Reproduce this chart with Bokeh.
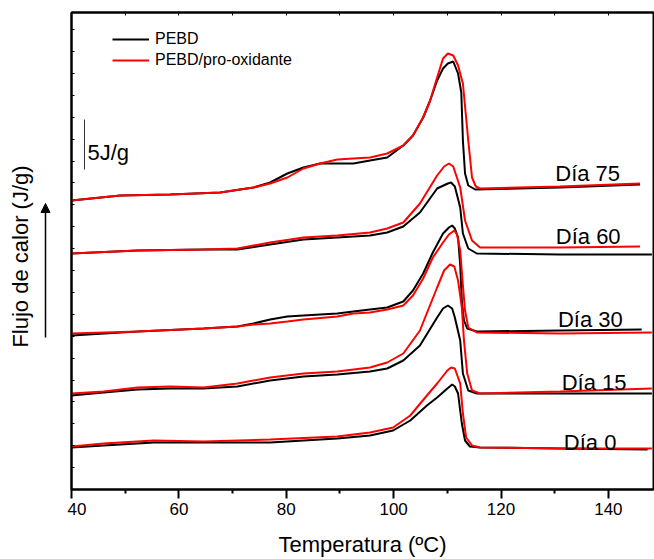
import math
from bokeh.plotting import figure
from bokeh.layouts import row
from bokeh.models import (Range1d, LinearAxis, FixedTicker, Legend, LegendItem,
                          Arrow, NormalHead, Label, CustomJSTickFormatter)
from bokeh.embed import file_html
from bokeh.resources import INLINE

FONT = "Liberation Sans"

# ---------------- data (temperature in ºC, heat flow in J/g, stacked offsets) -------------
d75_pebd_T = [40.0, 49.1, 58.4, 67.7, 73.9, 77.0, 80.2, 83.2, 86.3, 89.5, 92.5, 95.6, 98.8, 101.8,
              103.6, 105.5, 106.8, 108.1, 109.2, 110.1, 111.1, 112.0, 112.6, 112.9, 113.3, 113.9,
              115.2, 131.0, 145.9]
d75_pebd_H = [28.9, 29.4, 29.5, 29.7, 30.2, 30.7, 31.6, 32.2, 32.6, 32.6, 32.6, 32.9, 33.2, 34.4,
              35.4, 37.2, 38.9, 40.9, 42.1, 42.6, 42.8, 41.6, 39.7, 34.9, 31.6, 30.4,
              30.0, 30.2, 30.5]
d75_prox_T = [40.0, 49.1, 58.4, 67.7, 73.9, 77.0, 80.2, 83.2, 86.3, 89.5, 92.5, 95.6, 98.8, 101.8,
              103.6, 105.5, 106.8, 108.1, 109.2, 110.1, 111.1, 112.0, 112.9, 113.9, 114.6, 115.3,
              116.1, 131.0, 145.9]
d75_prox_H = [28.9, 29.4, 29.5, 29.7, 30.2, 30.6, 31.2, 32.1, 32.6, 33.0, 33.1, 33.2, 33.6, 34.4,
              35.4, 37.2, 38.9, 41.2, 43.1, 43.6, 43.4, 42.4, 40.6, 34.9, 31.2, 30.3,
              30.1, 30.3, 30.6]

d60_pebd_T = [40.0, 52.3, 64.6, 70.9, 77.0, 83.2, 89.5, 95.6, 98.8, 101.8, 104.9, 108.1, 110.1,
              110.7, 111.4, 112.4, 112.9, 113.9, 115.5, 131.0, 148.1]
d60_pebd_H = [23.6, 23.9, 24.0, 24.0, 24.5, 25.0, 25.2, 25.4, 25.7, 26.3, 27.7, 30.1, 30.6,
              30.7, 30.3, 28.2, 25.6, 24.1, 23.6, 23.5, 23.5]
d60_prox_T = [40.0, 52.3, 64.6, 70.9, 77.0, 83.2, 89.5, 95.6, 98.8, 101.8, 104.9, 108.1, 109.4,
              110.3, 111.1, 112.4, 113.3, 114.6, 116.1, 131.0, 145.9]
d60_prox_H = [23.6, 23.9, 24.0, 24.1, 24.7, 25.2, 25.4, 25.7, 26.1, 26.7, 28.6, 31.4, 32.3,
              32.6, 32.3, 30.2, 26.9, 24.9, 24.2, 24.2, 24.3]

d30_pebd_T = [40.0, 52.3, 64.6, 70.9, 73.9, 77.0, 80.2, 83.2, 89.5, 92.5, 95.6, 98.8, 101.8, 103.6,
              105.5, 107.3, 109.2, 110.3, 110.9, 111.4, 112.0, 112.4, 112.7, 113.1, 113.7, 115.5,
              131.0, 146.2]
d30_pebd_H = [15.4, 15.8, 16.1, 16.3, 16.6, 17.0, 17.3, 17.4, 17.6, 17.8, 18.0, 18.2, 18.8, 19.9,
              21.6, 23.7, 25.6, 26.2, 26.4, 26.1, 25.2, 22.4, 18.9, 16.9, 16.1, 15.8,
              15.9, 16.0]
d30_prox_T = [40.0, 52.3, 64.6, 70.9, 73.9, 77.0, 80.2, 83.2, 89.5, 92.5, 95.6, 98.8, 101.8, 103.6,
              105.5, 107.3, 109.2, 110.3, 111.3, 111.8, 112.4, 112.9, 113.3, 113.9, 115.5, 131.0,
              148.1]
d30_prox_H = [15.6, 15.8, 16.1, 16.3, 16.5, 16.6, 16.8, 17.0, 17.3, 17.6, 17.7, 18.0, 18.4, 19.4,
              21.1, 23.2, 24.7, 25.5, 25.9, 25.5, 23.9, 20.4, 17.9, 16.2, 15.7, 15.6,
              15.7]

d15_pebd_T = [40.0, 46.0, 52.3, 58.4, 64.6, 70.9, 77.0, 83.2, 89.5, 95.6, 98.8, 101.8, 104.9,
              108.1, 109.2, 110.1, 110.9, 111.4, 112.4, 112.9, 113.9, 115.5, 131.0, 148.1]
d15_pebd_H = [9.4, 9.7, 10.0, 10.1, 10.1, 10.3, 10.9, 11.3, 11.5, 11.8, 12.1, 12.9, 14.4,
              17.2, 18.1, 18.4, 18.1, 17.2, 14.9, 11.6, 9.9, 9.6, 9.6, 9.6]
d15_prox_T = [40.0, 46.0, 52.3, 58.4, 64.6, 70.9, 77.0, 83.2, 89.5, 95.6, 98.8, 101.8, 104.9,
              108.1, 109.4, 110.5, 111.3, 112.0, 112.7, 113.1, 113.7, 114.6, 116.1, 131.0, 148.1]
d15_prox_H = [9.6, 9.8, 10.2, 10.3, 10.2, 10.6, 11.2, 11.6, 11.8, 12.2, 12.7, 13.6, 15.9,
              20.2, 21.9, 22.5, 22.3, 20.9, 18.2, 14.9, 11.6, 9.9, 9.6, 9.8, 10.1]

d0_pebd_T = [40.0, 46.0, 55.3, 64.6, 77.0, 89.5, 95.6, 99.9, 103.1, 106.2, 108.1, 110.0, 110.9,
             111.4, 112.0, 112.7, 113.3, 114.2, 116.1, 131.0, 147.3]
d0_pebd_H = [4.2, 4.4, 4.7, 4.7, 4.7, 5.1, 5.4, 5.9, 6.9, 8.4, 9.2, 10.1, 10.5,
             10.3, 9.6, 6.6, 4.9, 4.3, 4.2, 4.1, 4.0]
d0_prox_T = [40.0, 46.0, 55.3, 64.6, 77.0, 89.5, 95.6, 99.9, 103.1, 106.2, 108.1, 110.0, 110.7,
             111.4, 112.4, 112.9, 113.5, 114.6, 116.1, 131.0, 148.1]
d0_prox_H = [4.3, 4.6, 4.9, 4.8, 5.0, 5.3, 5.7, 6.2, 7.4, 9.4, 10.6, 11.9, 12.2,
             12.1, 10.6, 7.6, 5.2, 4.4, 4.2, 4.1, 4.1]

series_names = ["PEBD", "PEBD/pro-oxidante"]
series_colors = ["#000000", "#ff0000"]

day_labels = ["Día 75", "Día 60", "Día 30", "Día 15", "Día 0"]
day_label_x = [130.1, 130.2, 130.6, 131.3, 131.7]
day_label_y = [31.6, 25.3, 17.0, 10.7, 4.7]

x_ticks = [40, 60, 80, 100, 120, 140]
x_minor = [50, 70, 90, 110, 130, 150]

curves = [
    (d75_pebd_T, d75_pebd_H, d75_prox_T, d75_prox_H),
    (d60_pebd_T, d60_pebd_H, d60_prox_T, d60_prox_H),
    (d30_pebd_T, d30_pebd_H, d30_prox_T, d30_prox_H),
    (d15_pebd_T, d15_pebd_H, d15_prox_T, d15_prox_H),
    (d0_pebd_T, d0_pebd_H, d0_prox_T, d0_prox_H),
]

LEFT_W = 67
TOTAL_W, TOTAL_H = 654, 559

# ---------------- left strip: y title + arrow (frame is aligned with the main frame) -------------
side = figure(width=LEFT_W, height=TOTAL_H, x_range=Range1d(0, LEFT_W), y_range=Range1d(70, 547),
              output_backend="svg", toolbar_location=None, x_axis_type=None, y_axis_type=None,
              min_border=0)
side.grid.visible = False
side.outline_line_color = None
side.background_fill_color = "white"
side.border_fill_color = "white"
side.add_layout(Label(x=20, y=303, text="Flujo de calor (J/g)", angle=math.pi / 2,
                      text_font=FONT, text_font_size="22px", text_align="center",
                      text_baseline="middle", text_color="black"))
side.add_layout(Arrow(end=NormalHead(size=9, fill_color="black", line_color="black", line_width=1),
                      x_start=45, y_start=222, x_end=45, y_end=356,
                      line_color="black", line_width=1.5))

# ---------------- main figure -------------
p = figure(width=TOTAL_W - LEFT_W, height=TOTAL_H, x_range=Range1d(40, 148.4), y_range=Range1d(0, 47.7),
           output_backend="svg", toolbar_location=None,
           min_border_left=4, min_border_right=1, min_border_top=12, min_border_bottom=70)
p.grid.visible = False
p.outline_line_color = "black"
p.outline_line_width = 2
p.background_fill_color = "white"
p.border_fill_color = "white"

black_r, red_r = None, None
for bT, bH, rT, rH in curves:
    black_r = p.line(bT, bH, line_color=series_colors[0], line_width=2)
    red_r = p.line(rT, rH, line_color=series_colors[1], line_width=2)

# x axis
xa = p.xaxis[0]
xa.ticker = FixedTicker(ticks=x_ticks, minor_ticks=x_minor)
xa.axis_line_width = 2
xa.major_tick_line_width = 2
xa.minor_tick_line_width = 2
xa.major_tick_out = 9
xa.major_tick_in = 0
xa.minor_tick_out = 4
xa.minor_tick_in = 0
xa.major_label_text_font = FONT
xa.major_label_text_font_size = "17px"
xa.major_label_text_color = "black"
xa.major_label_standoff = 4
xa.axis_label = "Temperatura (ºC)"
xa.axis_label_text_font = FONT
xa.axis_label_text_font_size = "22px"
xa.axis_label_text_font_style = "normal"
xa.axis_label_text_color = "black"
xa.axis_label_standoff = 14

# y axis (no labels)
ya = p.yaxis[0]
ya.ticker = FixedTicker(ticks=[2.19 * k for k in range(22)], minor_ticks=[])
ya.formatter = CustomJSTickFormatter(code="return ''")
ya.axis_line_width = 2
ya.major_tick_line_width = 1
ya.major_tick_in = 3
ya.major_tick_out = 0
ya.major_label_text_font_size = "1px"
ya.major_label_standoff = 0

# top axis with small inward ticks
ta = LinearAxis(ticker=FixedTicker(ticks=list(range(40, 150, 10)), minor_ticks=[]),
                formatter=CustomJSTickFormatter(code="return ''"))
ta.axis_line_width = 2
ta.major_tick_in = 3
ta.major_tick_out = 0
ta.major_tick_line_width = 1
ta.major_label_text_font_size = "1px"
ta.major_label_standoff = 0
p.add_layout(ta, "above")

# legend
legend = Legend(items=[LegendItem(label=series_names[0], renderers=[black_r]),
                       LegendItem(label=series_names[1], renderers=[red_r])],
                location=(41, 420), border_line_alpha=0, background_fill_alpha=0,
                padding=0, margin=0, spacing=3, glyph_width=37, glyph_height=16,
                label_height=16, label_standoff=6,
                label_text_font=FONT, label_text_font_size="16px", label_text_color="black")
p.add_layout(legend)

# day labels
for t, lx, ly in zip(day_labels, day_label_x, day_label_y):
    p.add_layout(Label(x=lx, y=ly, text=t, text_font=FONT, text_font_size="22px",
                       text_align="left", text_baseline="alphabetic", text_color="black"))

# scale bar 5 J/g
p.line([42.42, 42.42], [32.0, 37.0], line_color="#333333", line_width=1)
p.add_layout(Label(x=42.98, y=33.7, text="5J/g", text_font=FONT, text_font_size="22px",
                   text_align="left", text_baseline="alphabetic", text_color="black"))

layout = row(side, p)
open("out.html", "w").write(file_html(layout, INLINE))
